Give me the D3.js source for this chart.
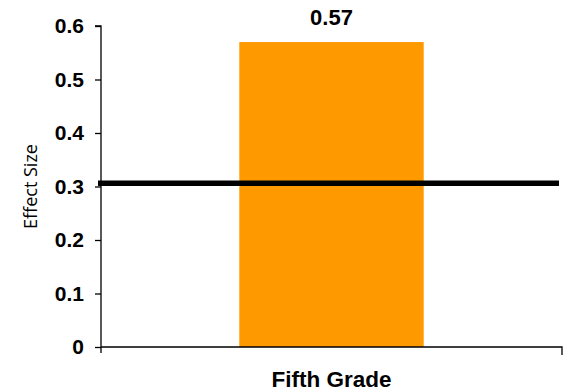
<!DOCTYPE html>
<html><head><meta charset="utf-8">
<script src="https://cdn.jsdelivr.net/npm/d3@7"></script>
<style>body{margin:0;background:#fff}svg{display:block}</style>
</head><body>
<script>
const categories = ["Fifth Grade"];
const values = [0.57];
const referenceValue = [0.306];
const yTicks = [0, 0.1, 0.2, 0.3, 0.4, 0.5, 0.6];
const yLabel = "Effect Size";

const W = 570, H = 392;
const m = {left: 101, right: 8, top: 26, bottom: 45};
const svg = d3.select("body").append("svg").attr("width", W).attr("height", H);

const x = d3.scaleBand().domain(categories).range([m.left, W - m.right]).paddingInner(0).paddingOuter(0.75);
const y = d3.scaleLinear().domain([0, 0.6]).range([H - m.bottom, m.top]);

// bars
svg.selectAll("rect.bar").data(values).join("rect")
  .attr("x", (d, i) => x(categories[i])).attr("width", x.bandwidth())
  .attr("y", d => y(d)).attr("height", d => y(0) - y(d))
  .attr("fill", "#FF9900");

// value labels
svg.selectAll("text.val").data(values).join("text")
  .attr("x", (d, i) => x(categories[i]) + x.bandwidth() / 2)
  .attr("y", d => y(d) - 17)
  .attr("text-anchor", "middle")
  .style("font", "bold 22px 'Liberation Sans', Arial, sans-serif")
  .text(d => d.toFixed(2));

// y axis
const yAxis = svg.append("g").attr("transform", `translate(${m.left},0)`)
  .call(d3.axisLeft(y).tickValues(yTicks).tickSize(6).tickPadding(11).tickFormat(d => d === 0 ? "0" : d3.format(".1f")(d)));
yAxis.select(".domain").attr("d", `M-6,${y(0.6)}H0V${y(0) + 6}`).attr("stroke", "#000").attr("stroke-width", 1.3);
yAxis.selectAll(".tick line").attr("stroke", "#000").attr("stroke-width", 1.3);
yAxis.selectAll("text").style("font", "bold 21px 'Liberation Sans', Arial, sans-serif").attr("fill", "#000");

// x axis
const xAxis = svg.append("g").attr("transform", `translate(0,${y(0)})`)
  .call(d3.axisBottom(x).tickSize(0).tickFormat(""));
xAxis.select(".domain").attr("d", `M${m.left},0H${W - m.right}V8`).attr("stroke", "#000").attr("stroke-width", 1.3);

svg.append("text")
  .attr("x", x(categories[0]) + x.bandwidth() / 2).attr("y", H - 5)
  .attr("text-anchor", "middle")
  .style("font", "bold 22.5px 'Liberation Sans', Arial, sans-serif")
  .text(categories[0]);

// y label
svg.append("text")
  .attr("transform", `translate(37,${(y(0) + y(0.6)) / 2}) rotate(-90)`)
  .attr("text-anchor", "middle")
  .style("font", "18px 'Open Sans', sans-serif")
  .text(yLabel);

// reference line
svg.selectAll("line.ref").data(referenceValue).join("line")
  .attr("x1", m.left - 3).attr("x2", W - m.right - 3)
  .attr("y1", d => y(d)).attr("y2", d => y(d))
  .attr("stroke", "#000").attr("stroke-width", 5.5);
</script>
</body></html>
